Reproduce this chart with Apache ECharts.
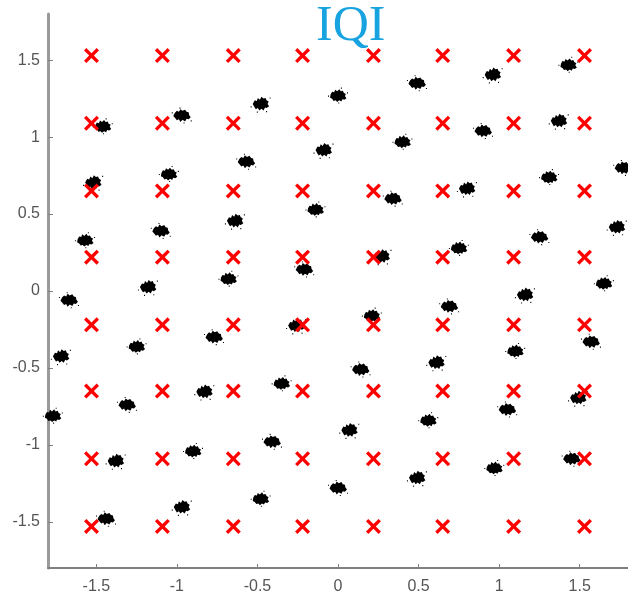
<!DOCTYPE html>
<html>
<head>
<meta charset="utf-8">
<script src="https://cdn.jsdelivr.net/npm/echarts@6/dist/echarts.min.js"></script>
<style>
html,body{margin:0;padding:0;background:#fff;}
#chart{width:628px;height:600px;}
</style>
</head>
<body>
<div id="chart"></div>
<script>
// Ideal constellation levels (red crosses)
const refLevelsI = [-1.53, -1.09, -0.65, -0.22, 0.22, 0.65, 1.09, 1.53];
const refLevelsQ = [-1.53, -1.09, -0.65, -0.22, 0.22, 0.65, 1.09, 1.53];

// Received cluster centres (black clusters)
const rxI = [1.43, 0.96, 0.49, 0.00, -0.48, -0.97, -1.46,
             1.37, 0.90, 0.40, -0.09, -0.57, -1.05, -1.52,
             1.77, 1.31, 0.80, 0.34, -0.14, -0.64, -1.10, -1.57,
             1.73, 1.25, 0.75, 0.27, -0.21, -0.68, -1.18, -1.67,
             1.65, 1.16, 0.69, 0.21, -0.26, -0.77, -1.25, -1.72,
             1.57, 1.10, 0.61, 0.14, -0.35, -0.83, -1.31, -1.77,
             1.49, 1.05, 0.56, 0.07, -0.41, -0.90, -1.38,
             1.45, 0.97, 0.49, 0.00, -0.48, -0.97, -1.44];
const rxQ = [1.47, 1.40, 1.35, 1.27, 1.21, 1.14, 1.07,
             1.10, 1.04, 0.97, 0.91, 0.84, 0.76, 0.70,
             0.80, 0.74, 0.66, 0.60, 0.53, 0.45, 0.39, 0.33,
             0.41, 0.35, 0.28, 0.22, 0.14, 0.08, 0.02, -0.06,
             0.05, -0.03, -0.10, -0.16, -0.23, -0.30, -0.36, -0.43,
             -0.33, -0.39, -0.47, -0.51, -0.60, -0.66, -0.74, -0.81,
             -0.70, -0.77, -0.84, -0.91, -0.98, -1.04, -1.11,
             -1.09, -1.15, -1.22, -1.28, -1.35, -1.41, -1.48];

const xTickValues = [-1.5, -1, -0.5, 0, 0.5, 1, 1.5];
const yTickValues = [-1.5, -1, -0.5, 0, 0.5, 1, 1.5];
const titleText = 'IQI';

const refData = [];
refLevelsI.forEach(i => refLevelsQ.forEach(q => refData.push([i, q])));
const rxData = rxI.map((v, k) => [v, rxQ[k]]);

const crossPath = 'path://M0,2.2 L2.2,0 L7,4.8 L11.8,0 L14,2.2 L9.2,7 L14,11.8 L11.8,14 L7,9.2 L2.2,14 L0,11.8 L4.8,7 Z';
const blobs = [
  'path://M6,13 L9,8 L13,9 L15,4 L19,7 L23,3 L26,7 L30,6 L32,10 L36,12 L34,16 L37,20 L33,23 L29,22 L27,26 L23,24 L19,27 L16,24 L12,25 L9,21 L5,19 Z M1,15 h2 v2 h-2 Z M38,9 h2 v2 h-2 Z M21,28 h2 v2 h-2 Z M26,0 h2 v2 h-2 Z',
  'path://M4,15 L8,9 L12,10 L14,5 L18,8 L21,3 L25,6 L29,5 L31,9 L35,11 L33,15 L36,19 L31,22 L28,21 L25,26 L21,23 L17,26 L14,22 L10,24 L7,20 Z M0,19 h2 v2 h-2 Z M37,4 h2 v2 h-2 Z M12,28 h2 v2 h-2 Z M30,27 h2 v2 h-2 Z',
  'path://M7,10 L11,6 L15,8 L18,3 L22,6 L27,4 L30,8 L34,9 L35,14 L38,18 L34,22 L30,21 L27,26 L22,23 L18,27 L15,22 L11,24 L8,20 L4,16 Z M1,9 h2 v2 h-2 Z M38,24 h2 v2 h-2 Z M24,28 h2 v2 h-2 Z M16,0 h2 v2 h-2 Z'
];

const chart = echarts.init(document.getElementById('chart'), null, {renderer: 'canvas'});
chart.setOption({
  animation: false,
  backgroundColor: '#ffffff',
  title: {
    text: titleText,
    left: 316,
    top: 2,
    padding: 0,
    textStyle: {
      fontFamily: 'Liberation Serif',
      fontSize: 50,
      fontWeight: 'normal',
      color: '#17a3e0'
    }
  },
  grid: {left: 48, right: -4, top: 14, bottom: 32, containLabel: false},
  xAxis: {
    type: 'value',
    min: -1.8, max: 1.8,
    axisLine: {show: true, onZero: false, lineStyle: {color: '#808080', width: 2}},
    axisTick: {show: true, inside: true, length: 4, customValues: xTickValues, lineStyle: {color: '#808080', width: 1}},
    axisLabel: {customValues: xTickValues, margin: 11, fontFamily: 'Liberation Sans', fontSize: 16, color: '#555555',
      formatter: v => String(v)},
    splitLine: {show: false}
  },
  yAxis: {
    type: 'value',
    min: -1.8, max: 1.8,
    axisLine: {show: true, onZero: false, lineStyle: {color: '#9a9a9a', width: 3}},
    axisTick: {show: true, inside: true, length: 5, customValues: yTickValues, lineStyle: {color: '#808080', width: 1}},
    axisLabel: {customValues: yTickValues, margin: 8, fontFamily: 'Liberation Sans', fontSize: 16, color: '#555555',
      formatter: v => String(v)},
    splitLine: {show: false}
  },
  series: [
    {
      type: 'scatter',
      name: 'received',
      data: rxData,
      symbol: (val, params) => blobs[params.dataIndex % 3],
      symbolSize: [20, 16],
      itemStyle: {color: '#000000', opacity: 1},
      z: 2
    },
    {
      type: 'scatter',
      name: 'reference',
      data: refData,
      symbol: crossPath,
      symbolSize: 15,
      itemStyle: {color: '#ff0000', opacity: 1},
      z: 3
    }
  ]
});
</script>
</body>
</html>
